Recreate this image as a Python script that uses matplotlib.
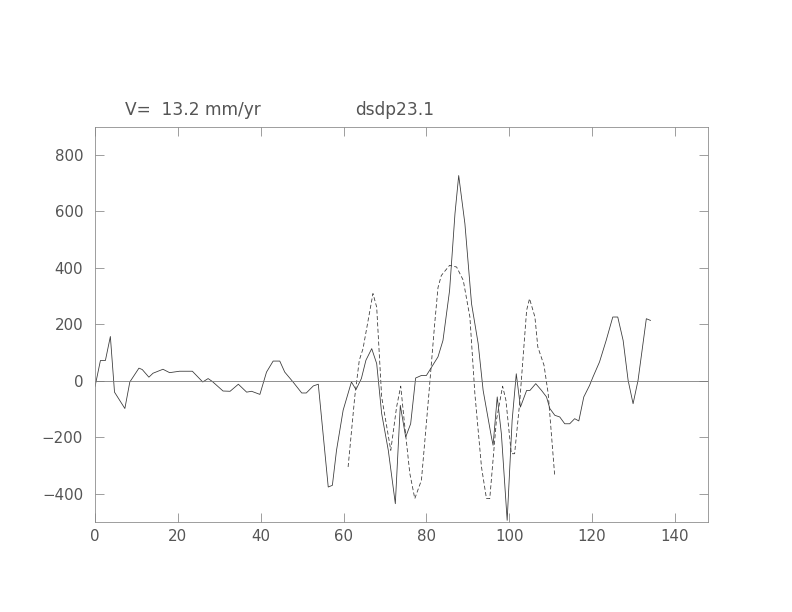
import matplotlib
matplotlib.use("Agg")
import matplotlib.pyplot as plt

# observed profile (solid)
obs_x = [0, 1.3, 2.5, 3.7, 4.7, 7.2, 8.4, 10.6, 11.4, 13, 14, 16.4, 18, 20.4, 23.5,
         26, 27.3, 28.3, 30.9, 32.6, 34.6, 36.6, 37.8, 39.8, 41.4, 43, 44.6, 45.8,
         47.8, 49.9, 51, 52.7, 53.9, 56.3, 57.3, 58.3, 59.9, 61.9, 63, 64.3, 65.4,
         66.8, 68, 69.2, 70.8, 72.5, 73.7, 75, 76.2, 77.4, 78.8, 80, 82.8, 84, 85.6,
         86.9, 87.8, 89.3, 90.9, 92.5, 93.7, 95.7, 96.1, 97.1, 98.1, 99.5, 100.7,
         101.7, 102.7, 104.2, 105, 106.4, 107.8, 109, 109.8, 111, 112.2, 113.4,
         114.6, 115.8, 116.8, 118, 119.4, 120.2, 121.8, 123.4, 125, 126.2, 127.5,
         128.7, 129.9, 131.1, 133.1, 134.1]
obs_y = [-20, 72, 72, 157, -40, -98, -4, 45, 40, 13, 27, 41, 29, 34, 34,
         -4, 8, -2, -36, -37, -12, -40, -37, -48, 31, 70, 70, 31,
         -4, -43, -43, -18, -12, -376, -370, -246, -104, -4, -31, 8, 73,
         114, 61, -116, -246, -435, -87, -199, -152, 10, 19, 19, 85, 143, 320,
         592, 727, 556, 273, 132, -34, -199, -228, -57, -187, -494, -140,
         25, -93, -34, -34, -10, -34, -57, -98, -122, -128, -152,
         -152, -134, -142, -57, -16, 13, 67, 143, 226, 226, 143,
         2, -81, 2, 220, 214]

# model profile (dashed)
mod_x = [61.1, 62.7, 63.8, 64.7, 67.1, 68, 69.2, 71.4, 72.8, 73.8, 74.8, 76, 77.2,
         78.8, 80.4, 82, 82.8, 83.6, 85.6, 87.3, 88.9, 90.5, 91.7, 93.3, 94.5,
         95.3, 96.9, 98.4, 99.2, 100.5, 101.3, 102.5, 104.2, 104.9, 106.2, 106.9,
         108.4, 109.4, 111]
mod_y = [-305, -57, 73, 114, 309, 261, -57, -246, -93, -19, -164, -328, -417,
         -352, -81, 202, 330, 373, 409, 403, 356, 226, -45, -305, -417,
         -417, -140, -19, -69, -258, -258, -81, 250, 291, 226, 120,
         55, -45, -340]

xticks = [0, 20, 40, 60, 80, 100, 120, 140]
yticks = [-400, -200, 0, 200, 400, 600, 800]

fig = plt.figure(figsize=(11, 8.5), dpi=72)
ax = fig.add_axes([0.12, 0.147, 0.774, 0.646])

ax.plot(obs_x, obs_y, color="#3a3a3a", lw=0.8)
ax.plot(mod_x, mod_y, color="#3a3a3a", lw=0.8, linestyle=(0, (5, 3)))
ax.axhline(0, color="#777777", lw=0.8)

ax.set_xlim(0, 148)
ax.set_ylim(-500, 900)
ax.set_xticks(xticks)
ax.set_yticks(yticks)
ax.tick_params(direction="in", length=9, width=0.8, color="#888888",
               labelcolor="#555555", labelsize=15, top=True, right=True)
ax.tick_params(axis="y", pad=12)
ax.tick_params(axis="x", pad=7)
for s in ax.spines.values():
    s.set_color("#888888")
    s.set_linewidth(0.8)

fig.text(0.158, 0.82, "V=  13.2 mm/yr", fontsize=17, color="#555555", va="center")
fig.text(0.448, 0.82, "dsdp23.1", fontsize=17, color="#555555", va="center")

fig.savefig("out.png", dpi=72)
